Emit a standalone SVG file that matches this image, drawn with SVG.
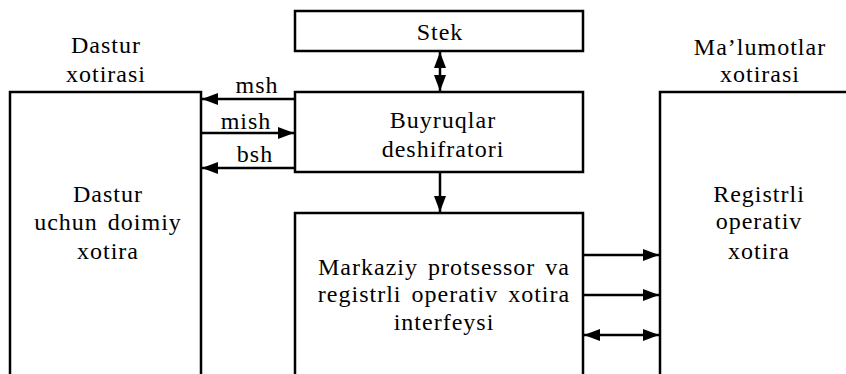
<svg xmlns="http://www.w3.org/2000/svg" width="846" height="374" viewBox="0 0 846 374">
<style>
.box{fill:none;stroke:#000;stroke-width:2.5}
.ln{fill:none;stroke:#000;stroke-width:2.5}
text{font-family:"Liberation Serif","Times New Roman",serif;font-size:24px;fill:#000;text-anchor:middle;letter-spacing:1px;word-spacing:3px}
</style>
<defs>
<marker id="ah" markerUnits="userSpaceOnUse" markerWidth="17" markerHeight="14" refX="16" refY="7" orient="auto-start-reverse">
<path d="M0,1 L16,7 L0,13 Z" fill="#000"/>
</marker>
</defs>
<rect width="846" height="374" fill="#fff"/>
<g id="dastur-xotirasi">
<text x="106" y="53">Dastur</text>
<text x="106" y="82">xotirasi</text>
<path class="box" d="M10,380 V92 H201 V380"/>
<text x="108" y="202">Dastur</text>
<text x="108" y="230">uchun doimiy</text>
<text x="108" y="259">xotira</text>
</g>
<g id="stek">
<rect class="box" x="295" y="11" width="288" height="40"/>
<text x="440" y="40">Stek</text>
</g>
<g id="buyruqlar">
<rect class="box" x="295" y="92" width="288" height="80"/>
<text x="443" y="128">Buyruqlar</text>
<text x="443" y="157">deshifratori</text>
</g>
<g id="markaziy">
<path class="box" d="M295,380 V213 H583 V380"/>
<text x="444" y="275">Markaziy protsessor va</text>
<text x="444" y="302">registrli operativ xotira</text>
<text x="444" y="330">interfeysi</text>
</g>
<g id="malumotlar">
<text x="760" y="55">Ma’lumotlar</text>
<text x="760" y="82">xotirasi</text>
<path class="box" d="M660,380 V92 H850"/>
<text x="759" y="202">Registrli</text>
<text x="759" y="229">operativ</text>
<text x="759" y="259">xotira</text>
</g>
<g id="connectors">
<path class="ln" d="M295,99 H202" marker-end="url(#ah)"/>
<path class="ln" d="M201,133 H294" marker-end="url(#ah)"/>
<path class="ln" d="M295,168 H202" marker-end="url(#ah)"/>
<path class="ln" d="M440,52 V91" marker-start="url(#ah)" marker-end="url(#ah)"/>
<path class="ln" d="M440,172 V212" marker-end="url(#ah)"/>
<path class="ln" d="M583,255 H659" marker-end="url(#ah)"/>
<path class="ln" d="M583,295 H659" marker-end="url(#ah)"/>
<path class="ln" d="M584,335 H659" marker-start="url(#ah)" marker-end="url(#ah)"/>
<text x="257" y="93">msh</text>
<text x="246" y="129">mish</text>
<text x="255" y="162">bsh</text>
</g>
</svg>
